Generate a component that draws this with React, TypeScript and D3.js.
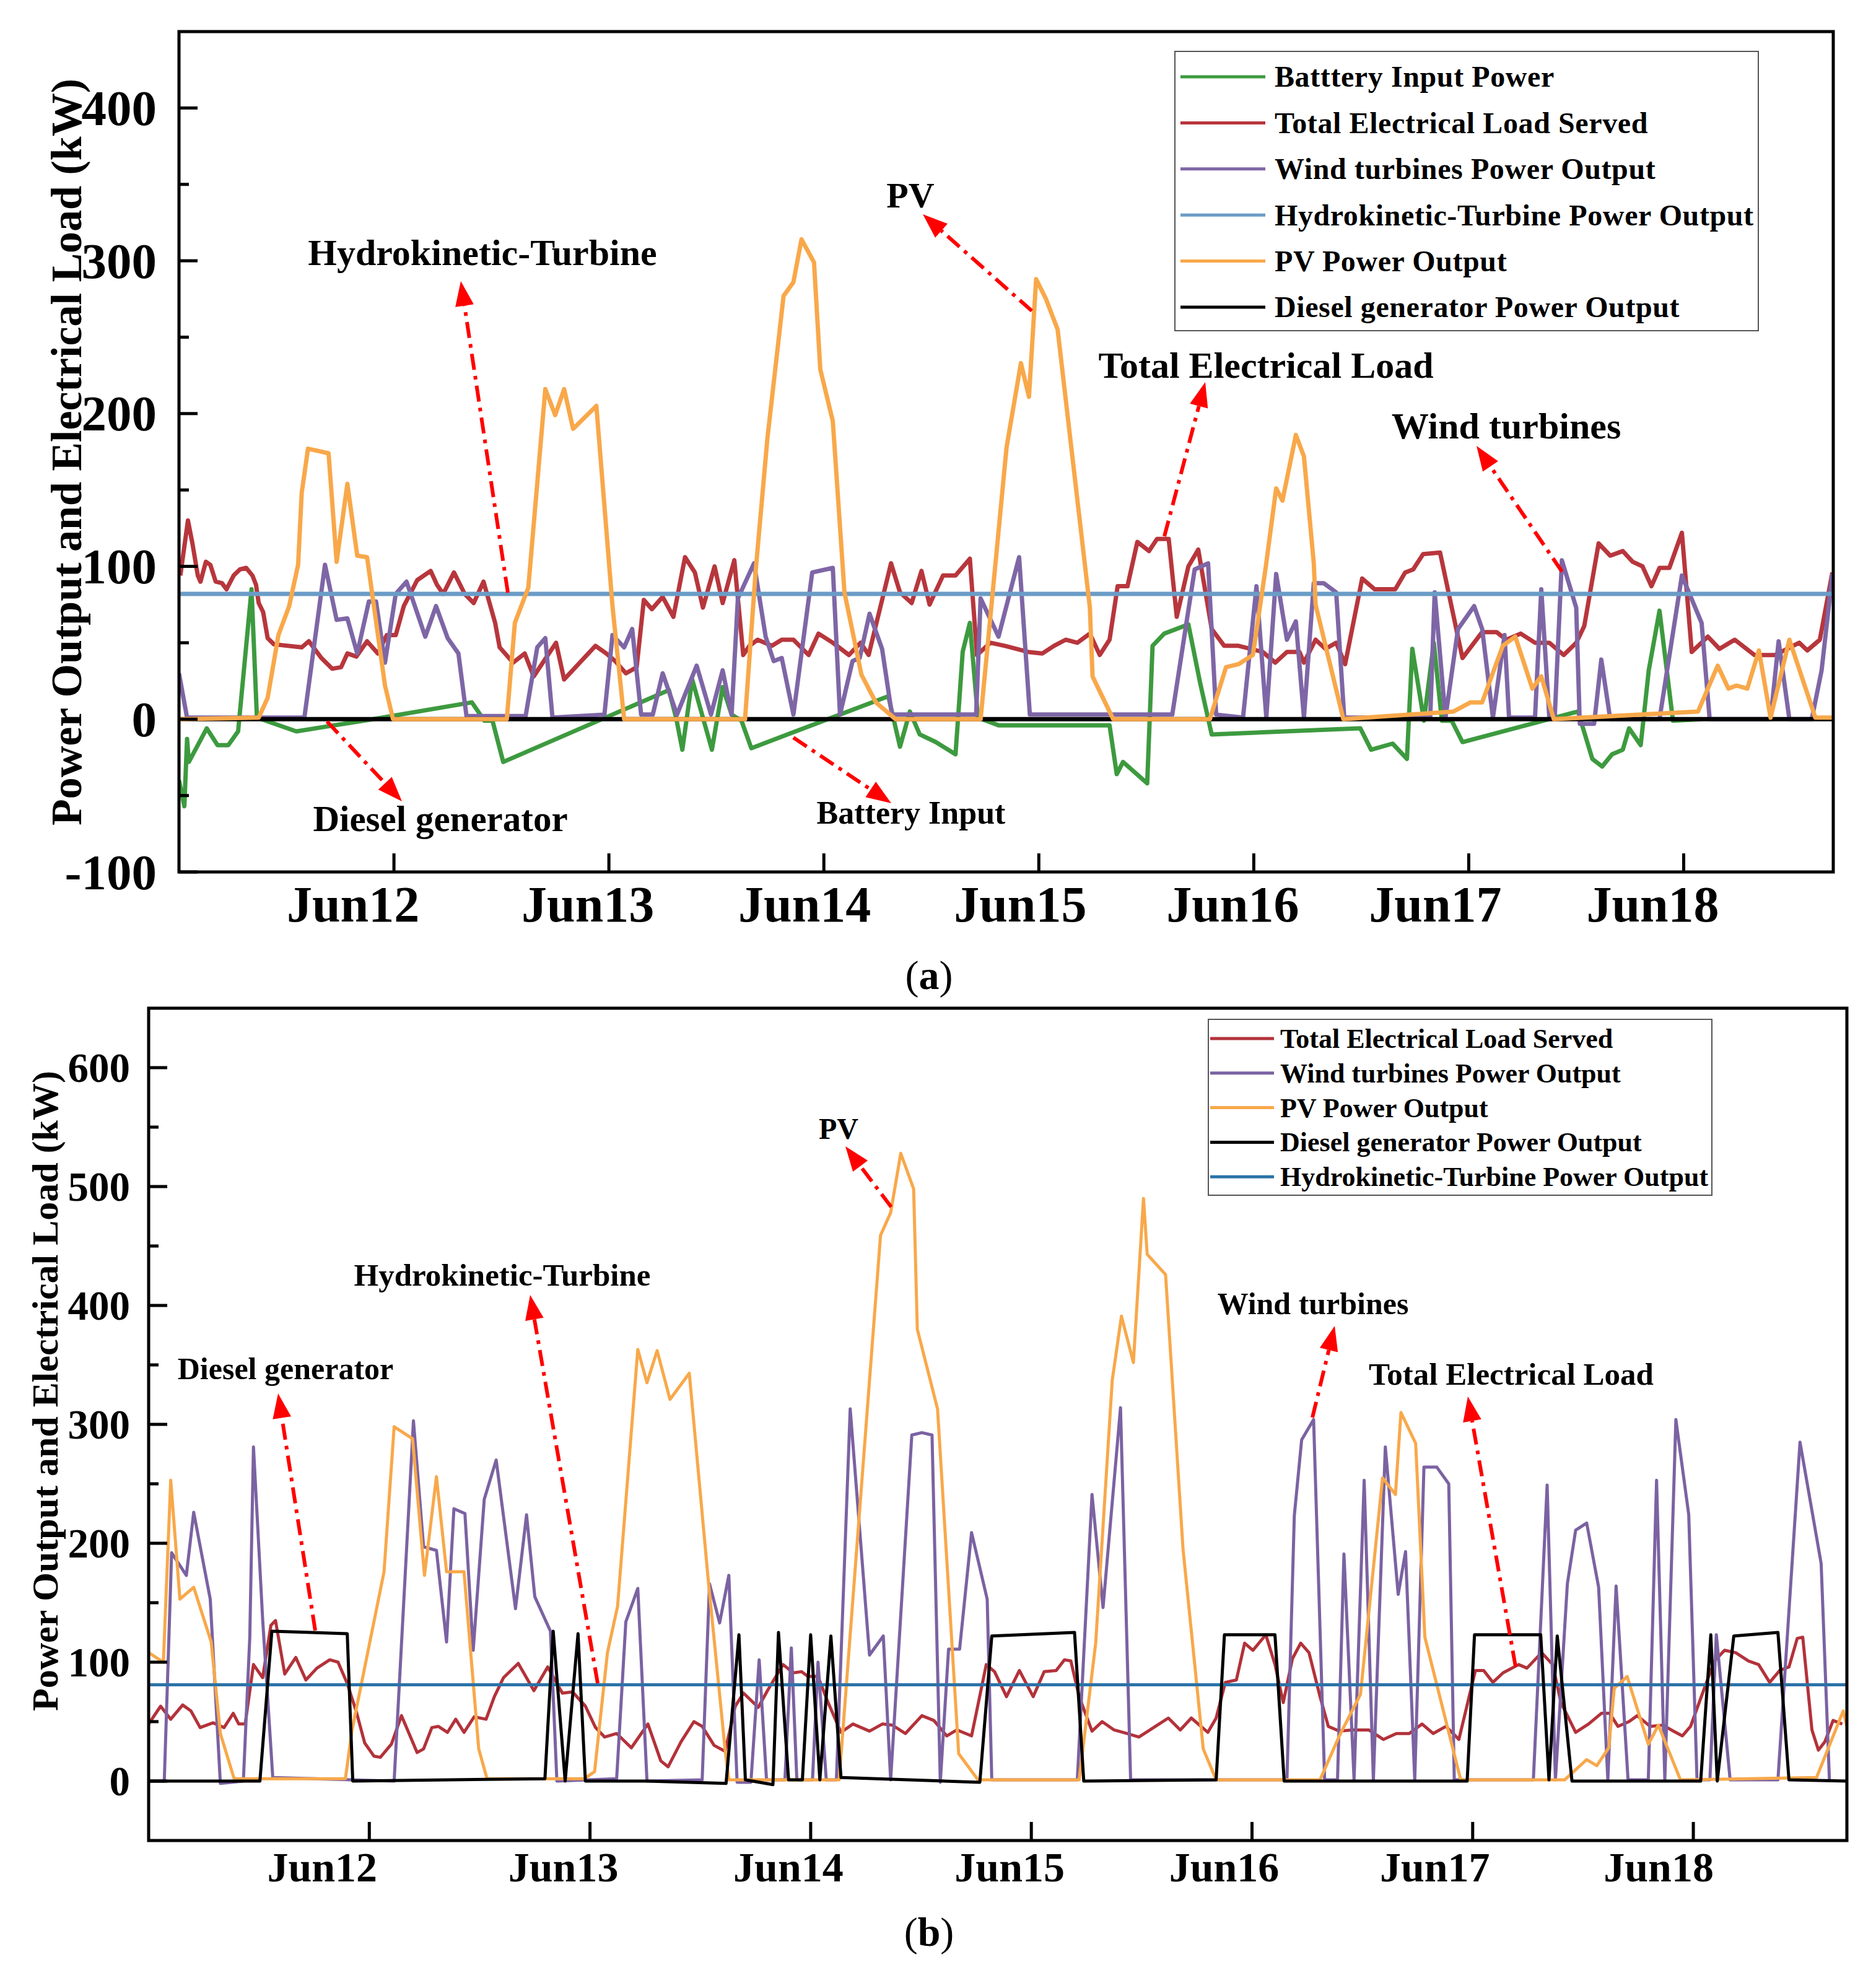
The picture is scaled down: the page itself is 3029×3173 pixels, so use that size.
import React, { useEffect, useRef } from 'react';
import * as d3 from 'd3';

type Pt = [number, number];

const W = 3029;
const H = 3173;
const FONT = '"Liberation Serif", "Times New Roman", serif';

// hours counted from Jun11 00:00
const dayHours = [24, 48, 72, 96, 120, 144, 168];
const dayLabels = ['Jun12', 'Jun13', 'Jun14', 'Jun15', 'Jun16', 'Jun17', 'Jun18'];
const hourSpan = 184.7;

// ---------- panel (a) ----------
const yTicksA = [-100, 0, 100, 200, 300, 400];
const yMinorA = [-50, 50, 150, 250, 350];

const batteryA: Pt[] = [
  [0, -40], [0.6, -57], [0.9, -13], [1.1, -28], [3.1, -6], [4.3, -17], [5.5, -17], [6.6, -8], [8.1, 85],
  [8.7, 1], [13.1, -8], [21.7, 0], [32.7, 11], [34.1, -1], [35, -1], [36.2, -28], [54.7, 19], [55.5, 1],
  [56.2, -20], [57.3, 26], [58.4, 3], [59.5, -20], [60.7, 21], [61.7, 3], [62.8, -1], [63.9, -19], [79.2, 15],
  [80.5, -18], [81.6, 5], [82.7, -10], [84.5, -15], [86.7, -23], [87.5, 44], [88.3, 63], [89.2, 1], [91.5, -4],
  [103.9, -4], [104.7, -36], [105.4, -28], [108.1, -42], [108.7, 48], [110, 56], [112.7, 62], [114, 24],
  [115.3, -10], [131.9, -6], [133.1, -20], [135.5, -16], [137.1, -26], [137.7, 46], [139, -1], [140.1, 50],
  [141, -1], [142.1, -1], [143.3, -15], [156.2, 5], [157.8, -26], [158.9, -31], [160, -23], [161.2, -20],
  [161.9, -6], [163.2, -17], [164.1, 32], [165.3, 71], [166.8, -1], [170, 0],
];

const loadA: Pt[] = [
  [0.15, 94], [1, 130], [1.5, 115], [2.1, 94], [2.4, 90], [3, 103], [3.5, 101], [4.1, 90], [4.8, 89], [5.3, 85],
  [6.1, 94], [6.8, 98], [7.5, 99], [8.2, 94], [8.6, 88], [8.9, 76], [9.4, 70], [9.9, 53], [10.6, 49], [13.7, 47],
  [14.5, 51], [15.9, 40], [17.1, 33], [18.1, 34], [18.8, 43], [19.8, 41], [21, 51], [22.2, 43], [23.2, 55],
  [24.2, 55], [25.1, 74], [26.6, 91], [28.1, 97], [28.8, 88], [29.5, 82], [30.7, 96], [31.9, 82], [32.9, 76],
  [34, 90], [35.3, 63], [35.8, 47], [37.3, 37], [38.6, 43], [39.6, 28], [42.1, 50], [43, 26], [46.5, 48],
  [47.7, 43], [48.7, 38], [49.9, 30], [51.1, 34], [51.9, 78], [52.8, 72], [54, 80], [55.2, 67], [56.5, 106],
  [57.6, 96], [58.5, 73], [59.8, 100], [60.7, 76], [62, 104], [62.4, 79], [63, 42], [63.7, 48], [64.6, 52],
  [66.2, 48], [67.3, 52], [68.6, 52], [70.3, 42], [71.4, 56], [73, 50], [74.8, 42], [76.1, 50], [77, 42],
  [79.5, 102], [80.5, 83], [81.8, 76], [82.9, 97], [83.8, 75], [85.3, 94], [86.7, 94], [88.3, 105], [89.1, 42],
  [90.6, 50], [92.2, 48], [94.8, 44], [96.4, 43], [97.7, 48], [99, 52], [100.3, 50], [101.7, 56], [102.8, 42],
  [103.9, 52], [104.8, 87], [105.9, 87], [107, 116], [108.3, 110], [109.2, 118], [110.5, 118], [111.4, 67],
  [112.7, 100], [113.8, 111], [115.3, 59], [116.7, 48], [118.3, 48], [121, 44], [122.4, 37], [123.7, 44],
  [125.1, 44], [125.6, 37], [126.9, 52], [128, 46], [129.2, 50], [130.2, 36], [132.1, 92], [133.5, 85],
  [135.8, 85], [136.9, 96], [137.8, 98], [138.9, 108], [140.8, 109], [143.3, 40], [145.5, 57], [147.1, 57],
  [148.2, 52], [149.8, 56], [151.4, 50], [153, 50], [154.6, 42], [156, 50], [156.9, 61], [158.5, 115],
  [159.8, 107], [161.2, 110], [162.3, 103], [163.4, 100], [164.4, 87], [165.3, 99], [166.4, 99], [167.8, 122],
  [168.9, 44], [170.7, 54], [172, 46], [173.7, 52], [175.9, 42], [178.2, 42], [180.9, 50], [181.8, 45],
  [183.2, 52], [184.6, 96],
];

const windA: Pt[] = [
  [0, 30], [0.9, 1], [14, 1], [16.3, 101], [17.6, 65], [18.8, 66], [19.9, 43], [21.2, 77], [22, 77], [23, 37],
  [24.2, 82], [25.4, 90], [27.5, 54], [28.7, 74], [30, 53], [31.2, 43], [32.1, 2], [38.7, 2], [40, 47],
  [40.9, 53], [41.7, 1], [47.5, 3], [48.4, 55], [49.7, 47], [50.6, 59], [51.6, 3], [52.9, 3], [54, 30],
  [55.6, 3], [57.8, 35], [59.4, 3], [60.7, 32], [61.7, 3], [62.4, 79], [64.2, 102], [65.5, 54], [66.4, 38],
  [67.3, 40], [68.6, 3], [70.7, 96], [73, 99], [73.8, 3], [75.2, 38], [76, 40], [77.1, 69], [78.5, 46],
  [79.6, 3], [89, 3], [89.5, 79], [91.5, 54], [93.8, 106], [95, 3], [110.9, 3], [113.4, 98], [114.9, 102],
  [115.8, 3], [118.8, 1], [120.3, 87], [121.4, 1], [122.5, 95], [123.7, 52], [124.7, 64], [125.6, 1],
  [126.7, 89], [127.8, 89], [129.2, 83], [130.1, 1], [139.7, 1], [140.2, 83], [141.4, 1], [142.8, 59],
  [144.6, 74], [145.5, 59], [146.7, 1], [148, 55], [148.5, 1], [151.4, 1], [152.1, 85], [153, 1], [153.6, 1],
  [154.4, 104], [156, 73], [156.4, -3], [158, -3], [158.8, 39], [159.8, 0], [165.3, 0], [167.8, 94], [170, 63],
  [170.9, 0], [177.7, 0], [178.6, 51], [179.8, 0], [182.3, 0], [183.4, 32], [184.6, 95],
];

const hydroA: Pt[] = [[0, 82], [hourSpan, 82]];

const pvA: Pt[] = [
  [0, 0], [8.9, 1], [9.9, 14], [11.1, 55], [12.3, 74], [13.3, 101], [13.7, 148], [14.4, 177], [16.7, 174],
  [17.6, 103], [18.8, 154], [19.9, 107], [21, 106], [23, 22], [23.9, 0], [36.6, 0], [37.5, 63], [39, 86],
  [40.9, 216], [42, 199], [43, 216], [44, 190], [46.6, 205], [48.4, 74], [49.7, 0], [63.2, 0], [64.4, 98],
  [65.7, 184], [67.5, 277], [68.6, 286], [69.5, 314], [70.9, 299], [71.6, 229], [73, 195], [74.3, 83],
  [76.2, 29], [77.8, 11], [80, 0], [89.5, 0], [92.4, 178], [94, 233], [94.9, 211], [95.7, 288], [96.8, 275],
  [98.1, 255], [101.7, 73], [102, 28], [104.3, 0], [115.1, 0], [116.9, 34], [118.3, 36], [119.9, 42],
  [121.3, 98], [122.5, 151], [123.2, 143], [124.7, 186], [125.6, 172], [126.7, 102], [126.9, 75], [130, 0],
  [142.3, 5], [144.2, 11], [145.5, 11], [147.8, 48], [149.2, 54], [151.1, 20], [152.1, 28], [153.5, 0],
  [169.6, 5], [171.8, 35], [173, 20], [173.9, 22], [175.1, 20], [176.4, 45], [177.7, 1], [179.8, 52],
  [182.7, 1], [184.7, 1],
];

const dieselA: Pt[] = [[0, 0], [hourSpan, 0]];

// ---------- panel (b) ----------
const yTicksB = [0, 100, 200, 300, 400, 500, 600];
const yMinorB = [50, 150, 250, 350, 450, 550];

const loadB: Pt[] = [
  [0, 48], [1.3, 63], [2.4, 52], [3.7, 64], [4.6, 59], [5.6, 45], [7, 49], [8.2, 45], [9.2, 57], [9.8, 48],
  [10.5, 48], [11.4, 98], [12.4, 87], [13.3, 131], [13.8, 135], [14.8, 90], [16, 104], [17.1, 85], [18.3, 95],
  [19.7, 102], [20.6, 100], [21.6, 82], [22.6, 58], [23.5, 32], [24.5, 21], [25.2, 20], [26.4, 31], [27.5, 55],
  [29.2, 24], [29.9, 27], [30.8, 45], [31.5, 46], [32.5, 41], [33.4, 52], [34.3, 41], [35.4, 54], [36.7, 52],
  [37.6, 71], [38.6, 87], [40.2, 99], [41.9, 76], [43.4, 96], [45, 74], [46.1, 75], [47.5, 63], [48.6, 45],
  [49.6, 37], [50.9, 40], [52.5, 28], [54.3, 48], [55.7, 17], [56.5, 12], [57.9, 33], [59.3, 50], [60.2, 46],
  [61.5, 30], [62.7, 25], [63.8, 63], [64.7, 74], [66.3, 62], [67.3, 76], [69, 98], [70.1, 91], [71, 92],
  [71.7, 88], [72.8, 88], [73.9, 66], [75.3, 41], [76.6, 48], [78.4, 42], [79.8, 48], [80.9, 47], [82.3, 40],
  [84.1, 55], [85.4, 51], [86.8, 38], [87.9, 43], [89.5, 38], [91.1, 98], [92, 92], [93.3, 71], [94.7, 93],
  [96.2, 71], [97.4, 92], [98.7, 93], [99.6, 102], [100.3, 101], [101.2, 71], [102.6, 42], [103.7, 50],
  [105, 43], [106.4, 40], [107.7, 37], [109.5, 46], [110.9, 53], [112.2, 43], [113.4, 53], [115.2, 41],
  [116.1, 53], [117.1, 83], [118.3, 85], [119.2, 116], [120.1, 110], [121.5, 123], [122.5, 98], [123.4, 66],
  [124.4, 103], [125.3, 116], [126.2, 108], [127.4, 71], [128.3, 46], [129.5, 42], [130.9, 43], [132.7, 43],
  [134.3, 35], [135.7, 40], [137.1, 40], [138.5, 48], [139.7, 40], [141.1, 46], [142.5, 35], [144.3, 93],
  [145.2, 93], [146.2, 83], [147.3, 91], [149, 98], [149.9, 95], [151.5, 108], [152.7, 98], [153.6, 66],
  [155.2, 41], [156.6, 48], [158, 57], [158.9, 57], [159.8, 46], [161, 50], [161.9, 55], [163.3, 46],
  [164.7, 47], [165.6, 43], [166.8, 38], [167.7, 46], [169.1, 76], [170.3, 101], [171.4, 110], [172.6, 108],
  [174, 101], [175.1, 98], [176.3, 83], [177.4, 93], [178.4, 96], [179.3, 120], [179.9, 121], [180.9, 43],
  [181.6, 26], [182.3, 33], [183.2, 51], [184.2, 48],
];

const windB: Pt[] = [
  [0, 0], [1.7, 0], [2.5, 192], [4.1, 173], [4.9, 226], [6.7, 153], [7.8, -2], [10.3, 0], [11, 121],
  [11.4, 281], [12.4, 136], [13.5, 3], [26.7, 0], [28.8, 303], [29.9, 197], [31.3, 194], [32.4, 117],
  [33.2, 229], [34.4, 225], [35.3, 110], [36.5, 237], [37.8, 270], [39.9, 145], [41.1, 224], [42, 155],
  [43.7, 126], [44.4, 0], [50.9, 2], [51.9, 134], [53.2, 162], [54.2, 0], [60.2, 1], [61, 166], [62.1, 133],
  [63.1, 173], [64, -1], [65.5, -1], [66.4, 102], [67.2, 1], [69.2, 1], [69.9, 112], [70.5, 1], [72.2, 1],
  [72.8, 100], [73.7, 1], [74.8, 1], [76.3, 313], [78.4, 106], [79.9, 122], [80.7, 1], [83, 291], [84.1, 293],
  [85.2, 291], [86.1, -1], [87, 111], [88.2, 111], [89.5, 209], [91.2, 153], [91.7, 1], [101, 1], [102.6, 241],
  [103.8, 146], [105.7, 314], [106.8, 1], [123.8, 1], [124.6, 223], [125.4, 287], [126.7, 304], [127.9, 1],
  [129.3, 1], [130, 191], [131.1, 1], [132.2, 253], [133.2, 1], [134.5, 281], [135.9, 157], [136.7, 193],
  [137.7, 1], [138.7, 264], [140.1, 264], [141.4, 250], [142, 1], [150.6, 1], [152.1, 249], [153, 1],
  [154.3, 166], [155.2, 211], [156.4, 217], [157.7, 163], [158.7, 1], [159.6, 164], [160.9, 1], [163.1, 1],
  [164, 253], [164.9, 1], [166.1, 304], [167.5, 224], [168.4, 1], [169.8, 1], [170.5, 123], [172, 1],
  [177.2, 1], [179.6, 285], [181.9, 183], [182.8, 1],
];

const pvB: Pt[] = [
  [0, 108], [1.6, 100], [2.4, 253], [3.4, 153], [4.9, 163], [6.8, 117], [7.8, 40], [9.3, 2], [21.4, 2],
  [22.1, 42], [25.6, 176], [26.7, 298], [28.7, 288], [30, 173], [31.3, 256], [32.4, 176], [34.3, 176],
  [35.9, 27], [36.8, 2], [47.4, 2], [48.5, 8], [49.9, 108], [51, 147], [53.2, 363], [54.2, 335], [55.3, 362],
  [56.7, 321], [58.8, 343], [60.9, 166], [62.7, 26], [63.1, 1], [75.1, 1], [79.6, 459], [80.7, 478],
  [81.8, 528], [83.2, 498], [83.6, 380], [85.8, 313], [88.1, 23], [90.2, 1], [101.2, 1], [103, 116],
  [104.8, 337], [105.8, 391], [107.1, 352], [108.2, 490], [108.6, 443], [110.6, 426], [112.5, 195],
  [114.7, 27], [116.1, 1], [127.4, 1], [129.5, 38], [131.8, 73], [134.2, 255], [135.6, 241], [136.2, 310],
  [137.8, 284], [138.8, 121], [142.7, 1], [154, 1], [156.4, 18], [157.5, 13], [158.8, 28], [159.4, 78],
  [160.8, 88], [163.1, 31], [164.2, 47], [166.6, 1], [181.4, 3], [184.3, 59], [184.7, 46],
];

const dieselB: Pt[] = [
  [0, 0], [12.1, 0], [13.4, 126], [21.6, 124], [22.2, 0], [43.1, 2], [44, 126], [45.3, 0], [46.7, 124],
  [47.5, 0], [54.2, 0], [62.8, -2], [64.2, 123], [64.9, 1], [67.9, -3], [68.5, 125], [69.6, 1], [71.1, 1],
  [72, 123], [73, 1], [74.2, 122], [75.3, 3], [90.4, -1], [91.7, 122], [100.7, 125], [101.7, 0], [116.1, 1],
  [117, 123], [122.5, 123], [123.5, 0], [143.4, 0], [144.2, 123], [151.4, 123], [152.3, 1], [153.2, 122],
  [154.8, 0], [168.8, 0], [169.9, 123], [170.6, 0], [172.4, 122], [177.2, 125], [178.4, 1], [184.7, 0],
];

const hydroB: Pt[] = [[0, 81], [hourSpan, 81]];

interface Series { name: string; data: Pt[]; color: string; width: number }
interface Note { text: string; x: number; y: number; size: number; from: Pt; to: Pt }
interface Panel {
  box: [number, number, number, number];
  yDomain: [number, number];
  yTicks: number[];
  yMinor: number[];
  series: Series[];
  legend: string[];
  legendBox: [number, number, number, number];
  legendRow0: number;
  legendStep: number;
  legendLine: [number, number];
  legendText: number;
  legendFont: number;
  legendSpacing: number;
  notes: Note[];
  tickFont: number;
  tickGap: number;
  xLabelBase: number;
  xLabelShift: number[];
  yLabel: [number, number, number];
  lineW: number;
  caption: [string, number];
}

const panelA: Panel = {
  box: [289, 51, 2960, 1408],
  yDomain: [-100, 450],
  yTicks: yTicksA,
  yMinor: yMinorA,
  series: [
    { name: 'Batttery Input Power', data: batteryA, color: '#3d9a3f', width: 7 },
    { name: 'Total Electrical Load Served', data: loadA, color: '#b7363c', width: 7 },
    { name: 'Wind turbines Power Output', data: windA, color: '#7e66a6', width: 7 },
    { name: 'Hydrokinetic-Turbine Power Output', data: hydroA, color: '#6a9cc6', width: 7 },
    { name: 'Diesel generator Power Output', data: dieselA, color: '#000000', width: 7 },
    { name: 'PV Power Output', data: pvA, color: '#f8a84a', width: 7 },
  ],
  legend: [
    'Batttery Input Power', 'Total Electrical Load Served', 'Wind turbines Power Output',
    'Hydrokinetic-Turbine Power Output', 'PV Power Output', 'Diesel generator Power Output',
  ],
  legendBox: [1897, 83, 2839, 534],
  legendRow0: 124,
  legendStep: 74.4,
  legendLine: [1906, 2043],
  legendText: 2058,
  legendFont: 48,
  legendSpacing: 0.6,
  notes: [
    { text: 'Hydrokinetic-Turbine', x: 779, y: 428, size: 60, from: [820, 957], to: [744, 454] },
    { text: 'PV', x: 1470, y: 335, size: 58, from: [1666, 502], to: [1490, 346] },
    { text: 'Total Electrical Load', x: 2044, y: 610, size: 60, from: [1880, 866], to: [1946, 617] },
    { text: 'Wind turbines', x: 2432, y: 708, size: 60, from: [2522, 923], to: [2384, 720] },
    { text: 'Diesel generator', x: 711, y: 1342, size: 59, from: [528, 1165], to: [649, 1294] },
    { text: 'Battery Input', x: 1471, y: 1330, size: 52, from: [1281, 1191], to: [1439, 1297] },
  ],
  tickFont: 81,
  tickGap: 36,
  xLabelBase: 1488,
  xLabelShift: [-66, -34, -31, -30, -34, -54, -50],
  yLabel: [131, 730, 70],
  lineW: 5,
  caption: ['a', 1597],
};

const panelB: Panel = {
  box: [240, 1628, 2982, 2972],
  yDomain: [-50, 650],
  yTicks: yTicksB,
  yMinor: yMinorB,
  series: [
    { name: 'Total Electrical Load Served', data: loadB, color: '#b3323a', width: 5 },
    { name: 'Wind turbines Power Output', data: windB, color: '#7b62a2', width: 5 },
    { name: 'PV Power Output', data: pvB, color: '#f8a84a', width: 5 },
    { name: 'Hydrokinetic-Turbine Power Output', data: hydroB, color: '#2b73a8', width: 5 },
    { name: 'Diesel generator Power Output', data: dieselB, color: '#000000', width: 5 },
  ],
  legend: [
    'Total Electrical Load Served', 'Wind turbines Power Output', 'PV Power Output',
    'Diesel generator Power Output', 'Hydrokinetic-Turbine Power Output',
  ],
  legendBox: [1951, 1646, 2764, 1930],
  legendRow0: 1677,
  legendStep: 55.8,
  legendLine: [1954, 2057],
  legendText: 2067,
  legendFont: 44,
  legendSpacing: 0,
  notes: [
    { text: 'PV', x: 1354, y: 1839, size: 48, from: [1439, 1949], to: [1365, 1851] },
    { text: 'Hydrokinetic-Turbine', x: 811, y: 2076, size: 51, from: [965, 2718], to: [856, 2091] },
    { text: 'Diesel generator', x: 461, y: 2227, size: 50, from: [509, 2633], to: [449, 2250] },
    { text: 'Wind turbines', x: 2120, y: 2122, size: 50, from: [2119, 2289], to: [2155, 2141] },
    { text: 'Total Electrical Load', x: 2440, y: 2236, size: 51, from: [2447, 2691], to: [2370, 2255] },
  ],
  tickFont: 67,
  tickGap: 30,
  xLabelBase: 3038,
  xLabelShift: [-76, -43, -36, -35, -45, -61, -56],
  yLabel: [93, 2246, 60],
  lineW: 5,
  caption: ['b', 3142],
};

function drawPanel(root: d3.Selection<SVGGElement, unknown, null, undefined>, p: Panel, id: string) {
  const [x0, y0, x1, y1] = p.box;
  const x = d3.scaleLinear().domain([0, hourSpan]).range([x0, x1]);
  const y = d3.scaleLinear().domain(p.yDomain).range([y1, y0]);
  const g = root.append('g');

  g.append('clipPath').attr('id', id).append('rect')
    .attr('x', x0).attr('y', y0).attr('width', x1 - x0).attr('height', y1 - y0);

  const line = d3.line<Pt>().x(d => x(d[0])).y(d => y(d[1]));
  const lines = g.append('g').attr('clip-path', `url(#${id})`);
  p.series.forEach(s => {
    lines.append('path')
      .attr('d', line(s.data) || '')
      .attr('fill', 'none')
      .attr('stroke', s.color)
      .attr('stroke-width', s.width)
      .attr('stroke-linejoin', 'round');
  });

  // frame + inward ticks
  g.append('rect').attr('x', x0).attr('y', y0).attr('width', x1 - x0).attr('height', y1 - y0)
    .attr('fill', 'none').attr('stroke', '#000').attr('stroke-width', p.lineW);
  p.yTicks.forEach(v => {
    g.append('line').attr('x1', x0).attr('x2', x0 + 30).attr('y1', y(v)).attr('y2', y(v))
      .attr('stroke', '#000').attr('stroke-width', p.lineW);
    g.append('text').attr('x', x0 - p.tickGap).attr('y', y(v) + p.tickFont * 0.34)
      .attr('text-anchor', 'end').attr('font-size', p.tickFont).attr('font-weight', 'bold')
      .attr('font-family', FONT).text(String(v));
  });
  p.yMinor.forEach(v => {
    g.append('line').attr('x1', x0).attr('x2', x0 + 16).attr('y1', y(v)).attr('y2', y(v))
      .attr('stroke', '#000').attr('stroke-width', p.lineW);
  });
  dayHours.forEach((h, i) => {
    g.append('line').attr('x1', x(h)).attr('x2', x(h)).attr('y1', y1).attr('y2', y1 - 30)
      .attr('stroke', '#000').attr('stroke-width', p.lineW);
    g.append('text').attr('x', x(h) + p.xLabelShift[i]).attr('y', p.xLabelBase)
      .attr('text-anchor', 'middle').attr('font-size', p.tickFont + 1).attr('font-weight', 'bold')
      .attr('font-family', FONT).text(dayLabels[i]);
  });

  // y axis title
  const [lx, ly, ls] = p.yLabel;
  g.append('text').attr('transform', `translate(${lx},${ly}) rotate(-90)`)
    .attr('text-anchor', 'middle').attr('font-size', ls).attr('font-weight', 'bold')
    .attr('font-family', FONT).text('Power Output and Electrical Load (kW)');

  // legend
  const [bx0, by0, bx1, by1] = p.legendBox;
  const leg = g.append('g');
  leg.append('rect').attr('x', bx0).attr('y', by0).attr('width', bx1 - bx0).attr('height', by1 - by0)
    .attr('fill', '#fff').attr('stroke', '#555').attr('stroke-width', 2);
  p.legend.forEach((name, i) => {
    const s = p.series.find(d => d.name === name)!;
    const ry = p.legendRow0 + i * p.legendStep;
    leg.append('line').attr('x1', p.legendLine[0]).attr('x2', p.legendLine[1]).attr('y1', ry).attr('y2', ry)
      .attr('stroke', s.color).attr('stroke-width', 5);
    leg.append('text').attr('x', p.legendText).attr('y', ry + p.legendFont * 0.34)
      .attr('font-size', p.legendFont).attr('font-weight', 'bold').attr('letter-spacing', p.legendSpacing)
      .attr('font-family', FONT).text(name);
  });

  // annotations with dash-dot arrows
  p.notes.forEach(n => {
    g.append('text').attr('x', n.x).attr('y', n.y).attr('text-anchor', 'middle')
      .attr('font-size', n.size).attr('font-weight', 'bold').attr('font-family', FONT).text(n.text);
    const [sx, sy] = n.from;
    const [tx, ty] = n.to;
    const len = Math.hypot(tx - sx, ty - sy);
    const ux = (tx - sx) / len;
    const uy = (ty - sy) / len;
    const head = 40;
    const half = 15;
    const bxp = tx - ux * head;
    const byp = ty - uy * head;
    g.append('line').attr('x1', sx).attr('y1', sy).attr('x2', bxp).attr('y2', byp)
      .attr('stroke', '#ff0000').attr('stroke-width', 6).attr('stroke-dasharray', '26,10,6,10');
    g.append('path')
      .attr('d', `M${tx},${ty}L${bxp - uy * half},${byp + ux * half}L${bxp + uy * half},${byp - ux * half}Z`)
      .attr('fill', '#ff0000');
  });

  // caption
  const cap = g.append('text').attr('x', 1500).attr('y', p.caption[1]).attr('text-anchor', 'middle')
    .attr('font-size', 66).attr('font-family', FONT);
  cap.append('tspan').text('(');
  cap.append('tspan').attr('font-weight', 'bold').text(p.caption[0]);
  cap.append('tspan').text(')');
}

const App: React.FC = () => {
  const svgRef = useRef<SVGSVGElement>(null);

  useEffect(() => {
    if (!svgRef.current) return;
    const svg = d3.select(svgRef.current);
    svg.selectAll('*').remove();
    const root = svg.append('g');
    root.append('rect').attr('width', W).attr('height', H).attr('fill', '#fff');
    drawPanel(root, panelA, 'clipA');
    drawPanel(root, panelB, 'clipB');
  }, []);

  return (
    <div style={{ position: 'absolute', left: 0, top: 0 }}>
      <svg ref={svgRef} width={W} height={H} viewBox={`0 0 ${W} ${H}`} />
    </div>
  );
};

export default App;
